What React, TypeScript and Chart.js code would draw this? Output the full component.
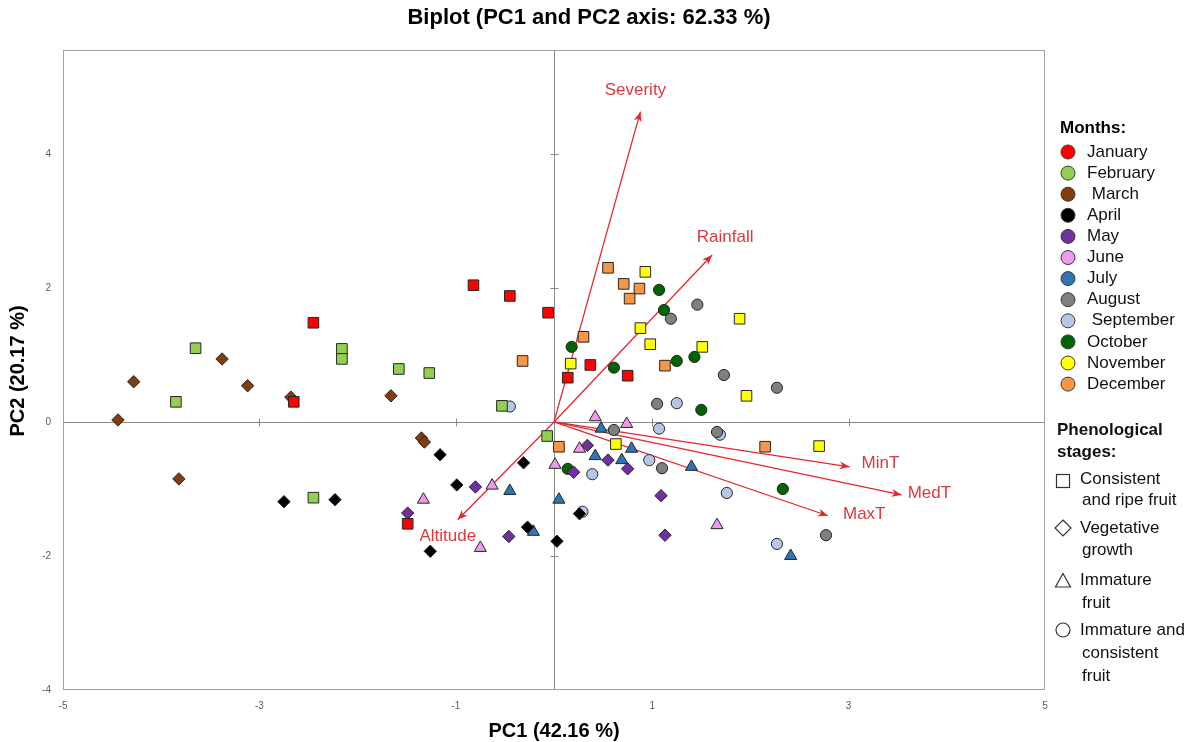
import React, { useEffect, useRef } from 'react';
import { Chart, registerables } from 'chart.js';

Chart.register(...registerables);

// ---------- DATA ----------
const monthNames = ['January', 'February', ' March', 'April', 'May', 'June', 'July', 'August', ' September', 'October', 'November', 'December'];
const monthColors = ['#ff0000', '#92d050', '#843c0c', '#000000', '#7030a0', '#ee99ee', '#2e75b6', '#7f7f7f', '#b4c7e7', '#006400', '#ffff00', '#f79646'];
const monthShapes = ['rect', 'rect', 'rectRot', 'rectRot', 'rectRot', 'triangle', 'triangle', 'circle', 'circle', 'circle', 'rect', 'rect'];

const janX = [-0.82, -0.45, -0.06, -2.45, -2.65, -1.49, 0.14, 0.37, 0.75];
const janY = [2.04, 1.88, 1.63, 1.48, 0.30, -1.52, 0.66, 0.85, 0.69];
const febX = [-3.65, -3.85, -2.16, -2.16, -1.58, -1.27, -0.53, -0.07, -2.45];
const febY = [1.10, 0.30, 1.09, 0.94, 0.79, 0.73, 0.24, -0.21, -1.13];
const marX = [-4.28, -3.38, -3.12, -2.68, -1.66, -4.44, -3.82, -1.35, -1.32];
const marY = [0.60, 0.94, 0.54, 0.37, 0.39, 0.03, -0.85, -0.24, -0.30];
const aprX = [-2.75, -2.23, -1.16, -0.99, -0.31, -1.26, -0.27, 0.03, 0.26];
const aprY = [-1.19, -1.16, -0.49, -0.94, -0.61, -1.93, -1.57, -1.78, -1.37];
const mayX = [0.34, 0.55, 0.75, 0.20, -0.80, -1.49, -0.46, 1.09, 1.13];
const mayY = [-0.35, -0.57, -0.70, -0.75, -0.97, -1.36, -1.71, -1.10, -1.69];
const junX = [0.42, 0.74, 0.26, 0.01, -0.63, -1.33, -0.75, 1.66];
const junY = [0.07, -0.03, -0.40, -0.64, -0.95, -1.16, -1.88, -1.54];
const julX = [0.48, 0.42, 0.69, 0.79, -0.45, 0.05, -0.21, 1.40, 2.41];
const julY = [-0.10, -0.51, -0.57, -0.40, -1.03, -1.16, -1.64, -0.67, -2.00];
const augX = [1.46, 1.19, 1.73, 2.27, 1.05, 0.61, 1.66, 1.10, 2.77];
const augY = [1.75, 1.54, 0.70, 0.51, 0.27, -0.12, -0.15, -0.69, -1.69];
const sepX = [-0.45, 1.25, 1.07, 1.69, 0.39, 0.97, 0.29, 1.76, 2.27];
const sepY = [0.23, 0.28, -0.10, -0.19, -0.78, -0.57, -1.34, -1.06, -1.82];
const octX = [1.07, 1.12, 0.18, 0.61, 1.25, 1.43, 1.50, 0.14, 2.33];
const octY = [1.97, 1.67, 1.12, 0.81, 0.91, 0.97, 0.18, -0.70, -1.00];
const novX = [0.93, 0.88, 0.98, 1.51, 1.89, 0.17, 1.96, 0.63, 2.70];
const novY = [2.24, 1.40, 1.16, 1.12, 1.54, 0.87, 0.39, -0.33, -0.36];
const decX = [0.55, 0.71, 0.87, 0.77, 0.30, 1.13, -0.32, 0.05, 2.15];
const decY = [2.30, 2.06, 1.99, 1.84, 1.27, 0.84, 0.91, -0.37, -0.37];

const monthXs = [janX, febX, marX, aprX, mayX, junX, julX, augX, sepX, octX, novX, decX];
const monthYs = [janY, febY, marY, aprY, mayY, junY, julY, augY, sepY, octY, novY, decY];

const vectorNames = ['Severity', 'Rainfall', 'MinT', 'MedT', 'MaxT', 'Altitude'];
const vectorX = [0.88, 1.61, 3.01, 3.54, 2.79, -0.98];
const vectorY = [4.63, 2.49, -0.67, -1.09, -1.40, -1.46];

const xTickMin = -5;
const xTickMax = 5;
const yTickMin = -4;
const yAxisMax = 5.55;
const tickStep = 2;

const stageNames = [['Consistent', 'and ripe fruit'], ['Vegetative', 'growth'], ['Immature', 'fruit'], ['Immature and', 'consistent', 'fruit']];

// ---------- STYLE ----------
const FONT = "'Liberation Sans', Arial, sans-serif";
const RED = '#e3282d';
const LABEL_RED = '#d93a3f';
const shapeRadius: Record<string, number> = { rect: 7.5, rectRot: 6.2, triangle: 7, circle: 5.6 };
// label placement relative to arrow tip (px)
const labelPlacement = [
  { dx: -5, dy: -21, align: 'center' },
  { dx: 13, dy: -18, align: 'center' },
  { dx: 12, dy: -4, align: 'left' },
  { dx: 6, dy: -2, align: 'left' },
  { dx: 15, dy: -1, align: 'left' },
  { dx: -10, dy: 17, align: 'center' },
];

const biplotPlugin = {
  id: 'biplot',
  beforeDatasetsDraw(chart: any) {
    const { ctx, chartArea: ca } = chart;
    const xs = chart.scales.x;
    const ys = chart.scales.y;
    ctx.save();
    ctx.strokeStyle = '#a3a3a3';
    ctx.lineWidth = 1;
    ctx.strokeRect(ca.left + 0.5, ca.top + 0.5, ca.width - 1, ca.height - 1);
    const x0 = Math.round(xs.getPixelForValue(0)) + 0.5;
    const y0 = Math.round(ys.getPixelForValue(0)) + 0.5;
    ctx.beginPath();
    ctx.strokeStyle = '#8a8a8a';
    ctx.moveTo(ca.left, y0);
    ctx.lineTo(ca.right, y0);
    ctx.moveTo(x0, ca.top);
    ctx.lineTo(x0, ca.bottom);
    xs.ticks.forEach((t: any) => {
      if (t.value > xs.min && t.value < xs.max) {
        const px = Math.round(xs.getPixelForValue(t.value)) + 0.5;
        ctx.moveTo(px, y0 - 4);
        ctx.lineTo(px, y0 + 4);
      }
    });
    ys.ticks.forEach((t: any) => {
      if (t.value > ys.min && t.value < ys.max && t.value !== 0) {
        const py = Math.round(ys.getPixelForValue(t.value)) + 0.5;
        ctx.moveTo(x0 - 4, py);
        ctx.lineTo(x0 + 4, py);
      }
    });
    ctx.stroke();
    ctx.restore();
  },
  afterDatasetsDraw(chart: any) {
    const { ctx } = chart;
    const xs = chart.scales.x;
    const ys = chart.scales.y;
    ctx.save();
    const ox = xs.getPixelForValue(0);
    const oy = ys.getPixelForValue(0);
    vectorNames.forEach((name, i) => {
      const tx = xs.getPixelForValue(vectorX[i]);
      const ty = ys.getPixelForValue(vectorY[i]);
      const ang = Math.atan2(ty - oy, tx - ox);
      const len = 10;
      const half = 4;
      const bx = tx - Math.cos(ang) * len;
      const by = ty - Math.sin(ang) * len;
      const ix = tx - Math.cos(ang) * len * 0.7;
      const iy = ty - Math.sin(ang) * len * 0.7;
      ctx.beginPath();
      ctx.fillStyle = RED;
      ctx.moveTo(tx, ty);
      ctx.lineTo(bx - Math.sin(ang) * half, by + Math.cos(ang) * half);
      ctx.lineTo(ix, iy);
      ctx.lineTo(bx + Math.sin(ang) * half, by - Math.cos(ang) * half);
      ctx.closePath();
      ctx.fill();
      const lp = labelPlacement[i];
      ctx.font = `17px ${FONT}`;
      ctx.fillStyle = LABEL_RED;
      ctx.textAlign = lp.align;
      ctx.textBaseline = 'middle';
      ctx.fillText(name, tx + lp.dx, ty + lp.dy);
    });
    ctx.restore();
  },
  afterDraw(chart: any) {
    const { ctx, chartArea: ca } = chart;
    ctx.save();
    ctx.fillStyle = '#000';
    ctx.textBaseline = 'middle';
    // title
    ctx.font = `bold 22px ${FONT}`;
    ctx.textAlign = 'center';
    ctx.fillText('Biplot (PC1 and PC2 axis: 62.33 %)', 589, 18);
    // axis titles
    ctx.font = `bold 20px ${FONT}`;
    ctx.fillText('PC1 (42.16 %)', (ca.left + ca.right) / 2, 731);
    ctx.save();
    ctx.translate(18, 371);
    ctx.rotate(-Math.PI / 2);
    ctx.fillText('PC2 (20.17 %)', 0, 0);
    ctx.restore();

    // Months legend
    ctx.textAlign = 'left';
    ctx.font = `bold 17px ${FONT}`;
    ctx.fillText('Months:', 1060, 128);
    ctx.font = `17px ${FONT}`;
    monthNames.forEach((m, i) => {
      const yy = 152 + i * 21.1;
      ctx.beginPath();
      ctx.arc(1068, yy, 7, 0, Math.PI * 2);
      ctx.fillStyle = monthColors[i];
      ctx.fill();
      ctx.lineWidth = 1;
      ctx.strokeStyle = '#3a3a3a';
      ctx.stroke();
      ctx.fillStyle = '#111';
      ctx.fillText(m, 1087, yy);
    });

    // Phenological legend
    ctx.font = `bold 17px ${FONT}`;
    ctx.fillStyle = '#111';
    ctx.fillText('Phenological', 1057, 430);
    ctx.fillText('stages:', 1057, 452);
    ctx.font = `17px ${FONT}`;
    ctx.strokeStyle = '#333';
    ctx.lineWidth = 1.2;
    const sx = 1063;
    // square
    ctx.strokeRect(sx - 6.5, 481 - 6.5, 13, 13);
    // diamond
    ctx.beginPath();
    ctx.moveTo(sx, 528 - 8);
    ctx.lineTo(sx + 8, 528);
    ctx.lineTo(sx, 528 + 8);
    ctx.lineTo(sx - 8, 528);
    ctx.closePath();
    ctx.stroke();
    // triangle
    ctx.beginPath();
    ctx.moveTo(sx, 581 - 7.5);
    ctx.lineTo(sx + 7.5, 581 + 6);
    ctx.lineTo(sx - 7.5, 581 + 6);
    ctx.closePath();
    ctx.stroke();
    // circle
    ctx.beginPath();
    ctx.arc(sx, 630, 7, 0, Math.PI * 2);
    ctx.stroke();
    const stageRows = [[479, 500], [528, 550], [580, 603], [630, 653, 676]];
    stageNames.forEach((lines, i) => {
      lines.forEach((t, j) => {
        ctx.fillText(t, j === 0 ? 1080 : 1082, stageRows[i][j]);
      });
    });
    ctx.restore();
  },
};

export default function App() {
  const ref = useRef<HTMLCanvasElement | null>(null);
  useEffect(() => {
    document.body.style.margin = '0';
    if (!ref.current) return;
    const monthDatasets = monthNames.map((name, i) => ({
      label: name.trim(),
      type: 'scatter' as const,
      data: monthXs[i].map((v, k) => ({ x: v, y: monthYs[i][k] })),
      pointStyle: monthShapes[i],
      pointRadius: shapeRadius[monthShapes[i]],
      backgroundColor: monthColors[i],
      borderColor: '#262626',
      borderWidth: 1,
      showLine: false,
    }));
    const vectorDatasets = vectorNames.map((name, i) => ({
      label: name,
      type: 'scatter' as const,
      data: [
        { x: 0, y: 0 },
        { x: vectorX[i], y: vectorY[i] },
      ],
      showLine: true,
      borderColor: RED,
      borderWidth: 1.3,
      pointRadius: 0,
      fill: false,
    }));
    const chart = new Chart(ref.current, {
      type: 'scatter',
      data: { datasets: [...monthDatasets, ...vectorDatasets] as any },
      options: {
        animation: false,
        responsive: false,
        devicePixelRatio: 1,
        events: [],
        layout: { padding: { top: 50, right: 152, bottom: 0, left: 0 } },
        plugins: { legend: { display: false }, tooltip: { enabled: false }, title: { display: false } },
        scales: {
          x: {
            type: 'linear',
            min: xTickMin,
            max: xTickMax,
            grid: { display: false, drawTicks: false },
            border: { display: false },
            ticks: { stepSize: tickStep, padding: 10, color: '#5a5a5a', font: { family: FONT, size: 10 } },
            afterFit: (s: any) => { s.height = 52; },
          },
          y: {
            type: 'linear',
            min: yTickMin,
            max: yAxisMax,
            grid: { display: false, drawTicks: false },
            border: { display: false },
            ticks: { stepSize: tickStep, padding: 12, color: '#5a5a5a', font: { family: FONT, size: 10 } },
            afterBuildTicks: (s: any) => { s.ticks = s.ticks.filter((t: any) => Number.isInteger(t.value)); },
            afterFit: (s: any) => { s.width = 63; },
          },
        },
      } as any,
      plugins: [biplotPlugin],
    });
    return () => chart.destroy();
  }, []);
  return <canvas ref={ref} width={1197} height={742} style={{ display: 'block' }} />;
}
